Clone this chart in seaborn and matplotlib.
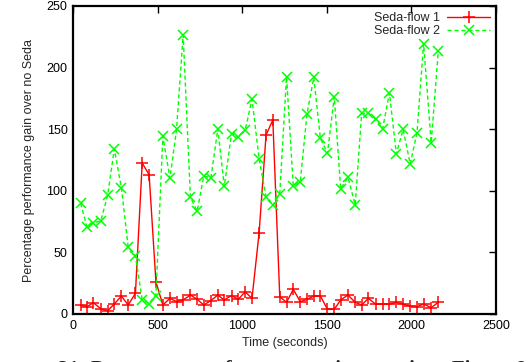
import matplotlib
matplotlib.use("Agg")
import matplotlib.pyplot as plt
import seaborn as sns
import pandas as pd

time_s = [45, 83, 120, 164, 205, 244, 286, 326, 369, 409, 450, 490, 531, 573, 612,
          651, 694, 734, 773, 815, 856, 894, 937, 977, 1017, 1058, 1100, 1141, 1181,
          1222, 1262, 1302, 1343, 1383, 1423, 1462, 1504, 1544, 1582, 1625, 1668,
          1706, 1746, 1789, 1830, 1870, 1911, 1951, 1993, 2033, 2072, 2117, 2159]

flow1 = [7.3, 5.9, 9.2, 4.3, 2.7, 8.1, 14.6, 7.3, 16.8, 122.5, 113, 26.2, 7.3, 12.7,
         10, 11.4, 15.4, 11.9, 7.3, 10.9, 15.4, 11.4, 15, 11.9, 18, 12.7, 66, 145.3,
         157.5, 14, 9.5, 20, 10, 11.9, 14.6, 14.6, 3.8, 3.8, 11.4, 15.4, 9.5, 7.3,
         12.7, 7.9, 7.9, 7.9, 9.5, 7.9, 6.5, 5.9, 8.1, 5.1, 9.5]

flow2 = [89.9, 70.5, 74, 75.5, 96.5, 134, 102.5, 54.6, 47.1, 11.6, 8.5, 15, 144.3,
         110.1, 149.9, 226.5, 94.7, 83.5, 112.2, 110.5, 150.3, 103.5, 146.5, 143.5,
         149, 174.3, 125.8, 95.2, 88.1, 97.6, 192.6, 103.9, 107.4, 162.3, 192.1,
         142.6, 130.4, 176.4, 101.5, 111, 88.5, 162.9, 162.9, 158, 150.3, 179.5, 130,
         149.9, 121.8, 147, 219.5, 139, 213.5]

series_names = ["Seda-flow 1", "Seda-flow 2"]
x_ticks = [0, 500, 1000, 1500, 2000, 2500]
y_ticks = [0, 50, 100, 150, 200, 250]

sns.set_style("white")
plt.rcParams["font.family"] = ["Liberation Sans", "DejaVu Sans"]

df = pd.DataFrame({"t": time_s, "f1": flow1, "f2": flow2})

fig = plt.figure(figsize=(5.31, 3.62), dpi=100)
ax = fig.add_axes([73/531, 1 - 314/362, 423/531, 308/362])

sns.lineplot(data=df, x="t", y="f1", ax=ax, color="#ff0000", marker="+",
             markersize=9, markeredgewidth=1.1, markeredgecolor="#ff0000",
             linewidth=1.0, label=series_names[0])
sns.lineplot(data=df, x="t", y="f2", ax=ax, color="#00ff00", marker="x",
             markersize=7, markeredgewidth=1.1, markeredgecolor="#00ff00",
             linewidth=1.0, linestyle=(0, (3, 2)), label=series_names[1])

ax.set_xlim(0, 2500)
ax.set_ylim(0, 250)
ax.set_xticks(x_ticks)
ax.set_yticks(y_ticks)
ax.tick_params(direction="in", length=5, width=1, top=True, right=True,
               labelsize=9, colors="black", pad=4)
for s in ax.spines.values():
    s.set_visible(True)
    s.set_linewidth(1.6)
    s.set_color("black")

ax.set_xlabel("Time (seconds)", fontsize=9, labelpad=4)
ax.set_ylabel("Percentage performance gain over no Seda", fontsize=9, labelpad=8)

leg = ax.legend(loc="upper right", frameon=False, markerfirst=False,
                fontsize=9, handlelength=3.4, handletextpad=0.6,
                borderaxespad=0.1, labelspacing=0.05)

fig.text(0.11, -0.035, "21: Percentage performance gain over time. Figure 8",
         fontsize=15, fontweight="bold", family=["Liberation Serif", "DejaVu Serif"],
         va="baseline", ha="left")

fig.savefig("out.png", dpi=100)
